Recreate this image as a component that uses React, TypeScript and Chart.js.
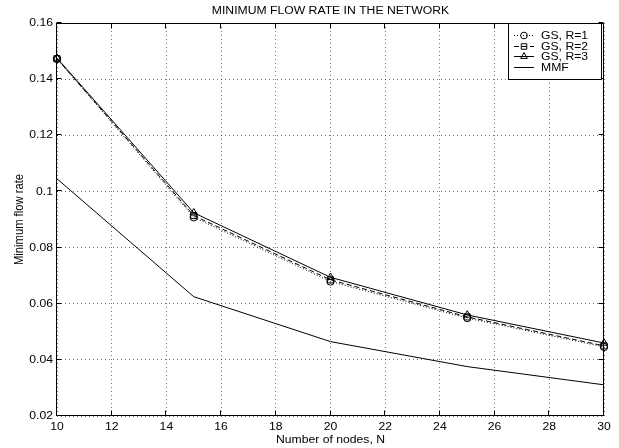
import { useEffect, useRef } from "react";
import { Chart, registerables } from "chart.js";

Chart.register(...registerables);

const chartTitle = "MINIMUM FLOW RATE IN THE NETWORK";
const xAxisTitle = "Number of nodes, N";
const yAxisTitle = "Minimum flow rate";

const nodes = [10, 15, 20, 25, 30];
const gsR1 = [0.1472, 0.0908, 0.0679, 0.0549, 0.0446];
const gsR2 = [0.1473, 0.0914, 0.0685, 0.0553, 0.045];
const gsR3 = [0.1475, 0.0924, 0.0694, 0.056, 0.046];
const mmf = [0.1045, 0.0625, 0.0465, 0.0376, 0.0311];

const seriesLabels = ["GS, R=1", "GS, R=2", "GS, R=3", "MMF"];
const xTicks = [10, 12, 14, 16, 18, 20, 22, 24, 26, 28, 30];
const yTicks = [0.02, 0.04, 0.06, 0.08, 0.1, 0.12, 0.14, 0.16];

const FONT = "'Liberation Sans', Arial, Helvetica, sans-serif";
const FS = 12.2;
const SY = 0.92;

function drawText(
  ctx: CanvasRenderingContext2D,
  s: string,
  x: number,
  y: number,
  align: CanvasTextAlign,
  rotate = false
) {
  ctx.save();
  ctx.translate(x, y);
  ctx.scale(1, SY);
  if (rotate) ctx.rotate(-Math.PI / 2);
  ctx.font = `${FS}px ${FONT}`;
  ctx.fillStyle = "#000";
  ctx.textAlign = align;
  ctx.textBaseline = "middle";
  ctx.fillText(s, 0, 0);
  ctx.restore();
}

function fmtY(v: number) {
  return String(Number(v.toFixed(2)));
}

function drawMarker(ctx: CanvasRenderingContext2D, style: string, x: number, y: number, r: number) {
  ctx.beginPath();
  if (style === "circle") {
    ctx.arc(x, y, r, 0, Math.PI * 2);
  } else if (style === "rect") {
    const s = r * Math.SQRT1_2;
    ctx.rect(x - s, y - s, 2 * s, 2 * s);
  } else if (style === "triangle") {
    ctx.moveTo(x, y - r);
    ctx.lineTo(x + r * 0.866, y + r * 0.5);
    ctx.lineTo(x - r * 0.866, y + r * 0.5);
    ctx.closePath();
  } else {
    return;
  }
  ctx.stroke();
}

const framePlugin = {
  id: "matlabFrame",
  afterDraw(chart: any) {
    const { ctx, chartArea: a, scales } = chart;
    ctx.save();
    ctx.strokeStyle = "#000";
    ctx.lineWidth = 1;
    ctx.setLineDash([]);
    const L = Math.round(a.left) - 0.5;
    const R = Math.round(a.right) - 0.5;
    const T = Math.round(a.top) + 0.5;
    const B = Math.round(a.bottom) - 0.5;
    ctx.strokeRect(L, T, R - L, B - T);
    const tl = 5;
    ctx.beginPath();
    xTicks.forEach((v) => {
      const px = Math.round(scales.x.getPixelForValue(v)) - 0.5;
      ctx.moveTo(px, B);
      ctx.lineTo(px, B - tl);
      ctx.moveTo(px, T);
      ctx.lineTo(px, T + tl);
    });
    yTicks.forEach((v) => {
      const py = Math.round(scales.y.getPixelForValue(v)) - 0.5;
      ctx.moveTo(L, py);
      ctx.lineTo(L + tl, py);
      ctx.moveTo(R, py);
      ctx.lineTo(R - tl, py);
    });
    ctx.stroke();

    // tick labels
    xTicks.forEach((v) => {
      drawText(ctx, String(v), scales.x.getPixelForValue(v), 426.5, "center");
    });
    yTicks.forEach((v) => {
      drawText(ctx, fmtY(v), 53, scales.y.getPixelForValue(v), "right");
    });

    // titles
    const cx = (a.left + a.right) / 2;
    drawText(ctx, chartTitle, cx, 11, "center");
    drawText(ctx, xAxisTitle, cx, 439.5, "center");
    drawText(ctx, yAxisTitle, 20, (a.top + a.bottom) / 2, "center", true);

    // legend
    const bx = 508.5, by = 23.5, bw = 93, bh = 56;
    ctx.fillStyle = "#fff";
    ctx.fillRect(bx, by, bw, bh);
    ctx.strokeStyle = "#000";
    ctx.strokeRect(bx, by, bw, bh);
    chart.data.datasets.forEach((ds: any, i: number) => {
      const y = Math.round(35 + i * 10.5) + 0.5;
      ctx.strokeStyle = "#000";
      ctx.lineWidth = 1;
      ctx.setLineDash(ds.borderDash || []);
      ctx.beginPath();
      ctx.moveTo(514, y);
      ctx.lineTo(534, y);
      ctx.stroke();
      ctx.setLineDash([]);
      if (ds.pointRadius > 0) {
        ctx.fillStyle = "#fff";
        drawMarker(ctx, ds.pointStyle, 524, y, ds.pointRadius * 0.9);
      }
      drawText(ctx, ds.label, 541, y, "left");
    });
    ctx.restore();
  },
};

export default function App() {
  const canvasRef = useRef<HTMLCanvasElement | null>(null);

  useEffect(() => {
    document.body.style.margin = "0";
    const canvas = canvasRef.current;
    if (!canvas) return;
    Chart.defaults.font.family = FONT;
    Chart.defaults.font.size = 12;
    Chart.defaults.color = "#000";

    const mk = (vals: number[]) => nodes.map((x, i) => ({ x, y: vals[i] }));
    const common = {
      borderColor: "#000",
      borderWidth: 1,
      pointBorderColor: "#000",
      pointBackgroundColor: "rgba(0,0,0,0)",
      pointBorderWidth: 1,
      tension: 0,
      fill: false,
      clip: false as any,
    };

    const chart = new Chart(canvas, {
      type: "line",
      data: {
        datasets: [
          { ...common, label: seriesLabels[0], data: mk(gsR1), borderDash: [1, 2], pointStyle: "circle", pointRadius: 3.7 },
          { ...common, label: seriesLabels[1], data: mk(gsR2), borderDash: [5, 3], pointStyle: "rect", pointRadius: 4.3 },
          { ...common, label: seriesLabels[2], data: mk(gsR3), borderDash: [], pointStyle: "triangle", pointRadius: 4.3 },
          { ...common, label: seriesLabels[3], data: mk(mmf), borderDash: [], pointStyle: "circle", pointRadius: 0 },
        ],
      },
      options: {
        responsive: false,
        animation: false,
        events: [],
        layout: { padding: { top: 23, right: 15, left: 0, bottom: 0 } },
        plugins: {
          legend: { display: false },
          title: { display: false },
          tooltip: { enabled: false },
        },
        scales: {
          x: {
            type: "linear",
            min: 10,
            max: 30,
            afterBuildTicks: (s: any) => {
              s.ticks = xTicks.map((v) => ({ value: v }));
            },
            afterFit: (s: any) => {
              s.height = 32;
            },
            ticks: { display: false },
            grid: {
              color: "rgba(0,0,0,0.55)",
              lineWidth: 1,
              drawTicks: false,
            },
            border: { display: false, dash: [1, 3] },
          },
          y: {
            type: "linear",
            min: 0.02,
            max: 0.16,
            afterBuildTicks: (s: any) => {
              s.ticks = yTicks.map((v) => ({ value: v }));
            },
            afterFit: (s: any) => {
              s.width = 57;
            },
            ticks: { display: false },
            grid: {
              color: "rgba(0,0,0,0.55)",
              lineWidth: 1,
              drawTicks: false,
            },
            border: { display: false, dash: [1, 3] },
          },
        },
      },
      plugins: [framePlugin],
    });

    return () => chart.destroy();
  }, []);

  return (
    <div style={{ width: 619, height: 448, background: "#fff" }}>
      <canvas ref={canvasRef} width={619} height={448} style={{ display: "block" }} />
    </div>
  );
}
